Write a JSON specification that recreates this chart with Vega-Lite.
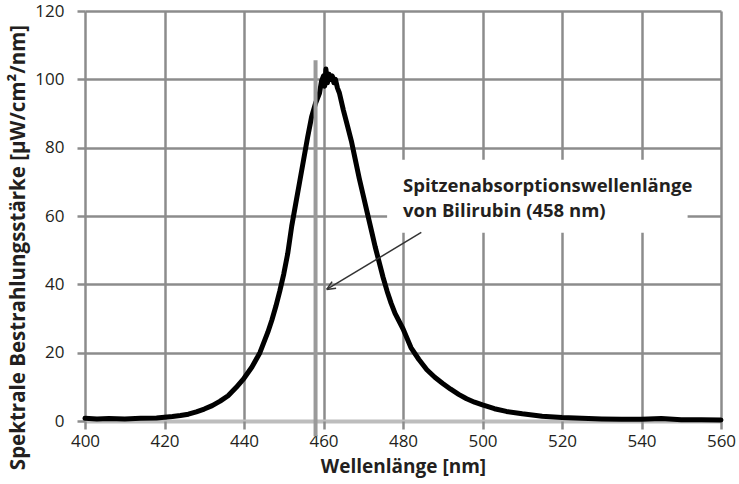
{
  "$schema": "https://vega.github.io/schema/vega-lite/v6.json",
  "autosize": {"type": "none"},
  "width": 636,
  "height": 410,
  "padding": {"left": 85, "top": 11, "right": 18, "bottom": 63},
  "background": "white",
  "config": {
    "view": {"stroke": null},
    "font": "Open Sans",
    "axis": {
      "domain": false,
      "gridColor": {"condition": {"test": "datum.value === 0", "value": "#bdbdbd"}, "value": "#8c8c8c"},
      "gridWidth": {"condition": {"test": "datum.value === 0", "value": 4}, "value": 2.5},
      "gridOpacity": 1,
      "tickColor": "#8c8c8c",
      "tickWidth": 2.5,
      "tickSize": 8,
      "labelFont": "Open Sans",
      "labelFontSize": 17,
      "labelColor": "#231f20",
      "titleFont": "Open Sans",
      "titleFontWeight": "bold",
      "titleColor": "#231f20"
    }
  },
  "encoding": {
    "x": {
      "field": "wl", "type": "quantitative",
      "scale": {"domain": [400, 560], "nice": false, "zero": false},
      "axis": {"title": "Wellenlänge [nm]", "values": [400, 420, 440, 460, 480, 500, 520, 540, 560], "labelPadding": 4, "titleFontSize": 19, "titlePadding": 8, "labelFlush": false}
    },
    "y": {
      "field": "val", "type": "quantitative",
      "scale": {"domain": [0, 120], "nice": false},
      "axis": {"title": "Spektrale Bestrahlungsstärke [µW/cm²/nm]", "values": [0, 20, 40, 60, 80, 100, 120], "labelPadding": 13, "titleFontSize": 20.5, "titleX": -67, "titleY": 236, "titleBaseline": "middle", "titleAngle": -90, "labelFlush": false}
    }
  },
  "layer": [
    {
      "data": {"values": [{"wl": 476.0, "wl2": 551.6, "val": 76.5, "val2": 55.1}]},
      "mark": {"type": "rect", "fill": "white", "stroke": null},
      "encoding": {"x2": {"field": "wl2"}, "y2": {"field": "val2"}}
    },
    {
      "data": {"values": [
        {"wl": 400, "val": 0.8}, {"wl": 403, "val": 0.6}, {"wl": 406, "val": 0.7}, {"wl": 410, "val": 0.6},
        {"wl": 414, "val": 0.8}, {"wl": 418, "val": 0.9}, {"wl": 420, "val": 1.1}, {"wl": 422, "val": 1.3},
        {"wl": 424, "val": 1.6}, {"wl": 426, "val": 2.0}, {"wl": 428, "val": 2.7}, {"wl": 430, "val": 3.5},
        {"wl": 432, "val": 4.5}, {"wl": 434, "val": 5.8}, {"wl": 436, "val": 7.4}, {"wl": 438, "val": 9.8},
        {"wl": 440, "val": 12.5}, {"wl": 442, "val": 15.8}, {"wl": 444, "val": 20}, {"wl": 446, "val": 26},
        {"wl": 447, "val": 29.5}, {"wl": 448, "val": 33.5}, {"wl": 449, "val": 38}, {"wl": 450, "val": 43},
        {"wl": 451, "val": 49}, {"wl": 452, "val": 57}, {"wl": 453, "val": 63.5}, {"wl": 454, "val": 70},
        {"wl": 455, "val": 76.5}, {"wl": 456, "val": 83}, {"wl": 457, "val": 89}, {"wl": 458, "val": 93},
        {"wl": 459, "val": 96}, {"wl": 459.5, "val": 99.5}, {"wl": 460, "val": 101}, {"wl": 460.3, "val": 98},
        {"wl": 460.6, "val": 103}, {"wl": 461, "val": 99}, {"wl": 461.4, "val": 101.5}, {"wl": 461.8, "val": 100},
        {"wl": 462.2, "val": 101}, {"wl": 462.6, "val": 99}, {"wl": 463, "val": 100}, {"wl": 463.5, "val": 97.5},
        {"wl": 464, "val": 96}, {"wl": 465, "val": 91}, {"wl": 466, "val": 86.5}, {"wl": 467, "val": 82},
        {"wl": 468, "val": 76.5}, {"wl": 469, "val": 71}, {"wl": 470, "val": 66}, {"wl": 471, "val": 61},
        {"wl": 472, "val": 56}, {"wl": 473, "val": 51}, {"wl": 474, "val": 46.5}, {"wl": 475, "val": 42},
        {"wl": 476, "val": 38}, {"wl": 477, "val": 34.5}, {"wl": 478, "val": 31.5}, {"wl": 480, "val": 27},
        {"wl": 482, "val": 21.5}, {"wl": 484, "val": 18}, {"wl": 486, "val": 15}, {"wl": 488, "val": 12.8},
        {"wl": 490, "val": 11}, {"wl": 492, "val": 9.3}, {"wl": 494, "val": 7.8}, {"wl": 496, "val": 6.5},
        {"wl": 498, "val": 5.5}, {"wl": 500, "val": 4.7}, {"wl": 503, "val": 3.6}, {"wl": 506, "val": 2.8},
        {"wl": 510, "val": 2.1}, {"wl": 515, "val": 1.4}, {"wl": 520, "val": 1.0}, {"wl": 525, "val": 0.8},
        {"wl": 530, "val": 0.6}, {"wl": 535, "val": 0.5}, {"wl": 540, "val": 0.5}, {"wl": 545, "val": 0.7},
        {"wl": 550, "val": 0.4}, {"wl": 555, "val": 0.4}, {"wl": 560, "val": 0.3}
      ]},
      "mark": {"type": "line", "color": "#000000", "strokeWidth": 5, "strokeJoin": "round", "strokeCap": "round"}
    },
    {
      "data": {"values": [{"wl": 458, "val": 105.6, "val2": -4.5}]},
      "mark": {"type": "rule", "color": "#9a9a9a", "strokeWidth": 4},
      "encoding": {"y2": {"field": "val2"}}
    },
    {
      "data": {"values": [{"wl": 484.6, "val": 55.2, "wl2": 460.8, "val2": 38.5}]},
      "mark": {"type": "rule", "color": "#333333", "strokeWidth": 1.5},
      "encoding": {"x2": {"field": "wl2"}, "y2": {"field": "val2"}}
    },
    {
      "data": {"values": [{"wl": 460.8, "val": 38.5}]},
      "mark": {"type": "point", "shape": "M0,0L1,-0.45M0,0L1,0.45", "size": 300, "filled": false, "stroke": "#333333", "strokeWidth": 1.5, "angle": 329, "opacity": 1}
    },
    {
      "data": {"values": [
        {"wl": 480, "val": 67.1, "label": "Spitzenabsorptionswellenlänge"},
        {"wl": 480, "val": 59.8, "label": "von Bilirubin (458 nm)"}
      ]},
      "mark": {"type": "text", "align": "left", "baseline": "alphabetic", "font": "Open Sans", "fontWeight": "bold", "fontSize": 18.5, "color": "#231f20"},
      "encoding": {"text": {"field": "label"}}
    }
  ]
}
